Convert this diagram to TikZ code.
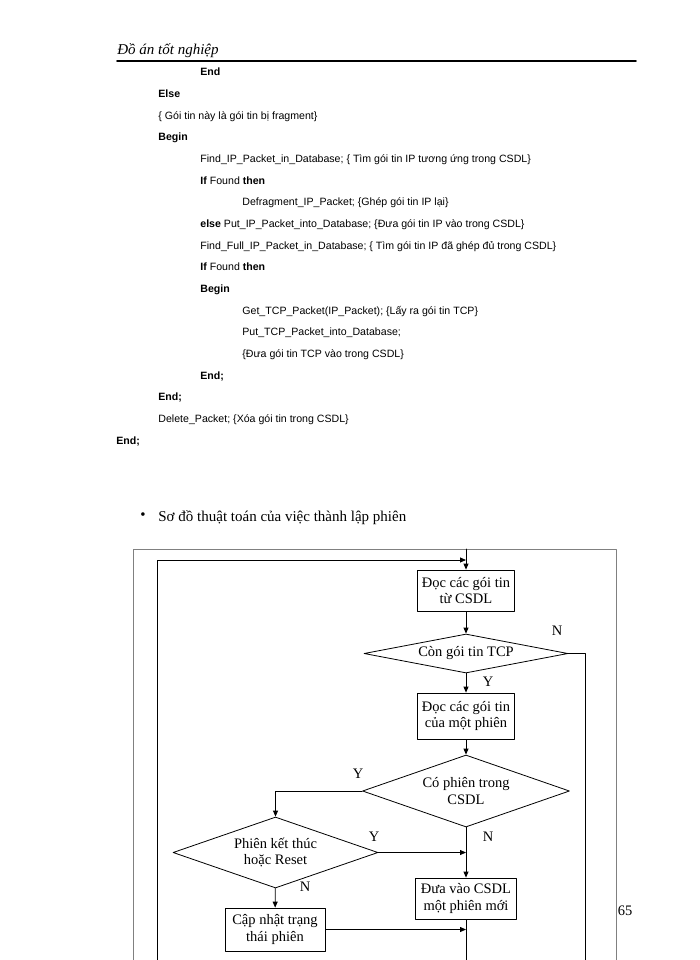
\documentclass[tikz,border=0pt]{standalone}
\usepackage{fontspec}
\setmainfont{Liberation Serif}
\newfontfamily\codefont{Liberation Sans}
\usetikzlibrary{shapes.geometric,arrows.meta}

\tikzset{
  codeline/.style={anchor=base west,inner sep=0pt,font=\codefont\fontsize{10.6}{12}\selectfont},
  chart/.style={font=\fontsize{14.5}{16.5}\selectfont},
  box/.style={chart,draw,rectangle,align=center,inner sep=1pt,minimum width=97pt,minimum height=41pt},
  dec/.style={chart,draw,diamond,align=center,inner sep=0pt,aspect=3,minimum width=205pt,minimum height=71pt},
  lbl/.style={chart,inner sep=0pt},
  arr/.style={-{Triangle[length=6pt,width=5pt]}},
}

\begin{document}
\begin{tikzpicture}[x=1pt,y=-1pt,line cap=round,line join=round,line width=0.8pt]
  \useasboundingbox (0,0) rectangle (700,960);
  % page header
  \node[anchor=base west,inner sep=0pt,font=\itshape\fontsize{15}{17}\selectfont] (hdr) at (117,55) {Đồ án tốt nghiệp};
  \coordinate (hl) at (117,61);
  \coordinate (hr) at (636,61);
  \draw[line width=1.6pt] (hl) -- (hr);
  % pseudocode
  \foreach \i/\x/\t in {
    1/200/{\textbf{End}},
    2/158/{\textbf{Else}},
    3/158/{\{ Gói tin này là gói tin bị fragment\}},
    4/158/{\textbf{Begin}},
    5/200/{Find\_IP\_Packet\_in\_Database; \{ Tìm gói tin IP tương ứng trong CSDL\}},
    6/200/{\textbf{If} Found \textbf{then}},
    7/242/{Defragment\_IP\_Packet; \{Ghép gói tin IP lại\}},
    8/200/{\textbf{else} Put\_IP\_Packet\_into\_Database; \{Đưa gói tin IP vào trong CSDL\}},
    9/200/{Find\_Full\_IP\_Packet\_in\_Database; \{ Tìm gói tin IP đã ghép đủ trong CSDL\}},
    10/200/{\textbf{If} Found \textbf{then}},
    11/200/{\textbf{Begin}},
    12/242/{Get\_TCP\_Packet(IP\_Packet); \{Lấy ra gói tin TCP\}},
    13/242/{Put\_TCP\_Packet\_into\_Database;},
    14/242/{\{Đưa gói tin TCP vào trong CSDL\}},
    15/200/{\textbf{End;}},
    16/158/{\textbf{End;}},
    17/158/{Delete\_Packet; \{Xóa gói tin trong CSDL\}},
    18/116/{\textbf{End;}}} {
    \node[codeline] (c\i) at (\x,{76+(\i-1)*21.65}) {\t};
  }
  % caption
  \node[inner sep=0pt,font=\fontsize{15}{17}\selectfont] (bul) at (143,516) {•};
  \node[anchor=base west,inner sep=0pt,font=\fontsize{15}{17}\selectfont] (cap) at (158,521) {Sơ đồ thuật toán của việc thành lập phiên};
  % frame
  \coordinate (fbl) at (133,960);
  \coordinate (ftl) at (133,549);
  \coordinate (ftr) at (616,549);
  \coordinate (fbr) at (616,960);
  \draw[gray] (fbl) -- (ftl) -- (ftr) -- (fbr);
  % flowchart
  \node[box] (rd) at (466,590.5) {Đọc các gói tin\\từ CSDL};
  \node[dec,aspect=5.2,minimum width=204pt,minimum height=39pt] (tcp) at (466,653.5) {Còn gói tin TCP};
  \node[box,minimum height=46pt] (rs) at (466,716) {Đọc các gói tin\\của một phiên};
  \node[dec,minimum width=207pt,minimum height=72pt] (has) at (466,791) {Có phiên trong\\CSDL};
  \node[dec] (fin) at (275.5,852.5) {Phiên kết thúc\\hoặc Reset};
  \node[box,minimum width=101pt] (new) at (466,898.5) {Đưa vào CSDL\\một phiên mới};
  \node[box,minimum width=100pt,minimum height=43pt] (upd) at (275,929.5) {Cập nhật trạng\\thái phiên};
  \coordinate (mt) at (466,549);
  \coordinate (mb) at (466,960);
  \coordinate (lt) at (157,560);
  \coordinate (lb) at (157,960);
  \coordinate (rb) at (585,960);
  \draw[arr] (mt) -- (rd);
  \draw[arr] (lb) -- (lt) -- (lt -| rd.north);
  \draw[arr] (rd) -- (tcp);
  \draw (tcp.east) -| (rb);
  \draw[arr] (tcp) -- (rs);
  \draw[arr] (rs) -- (has);
  \draw[arr] (has.west) -| (fin.north);
  \draw[arr] (fin.east) -- (fin.east -| new.north);
  \draw[arr] (has) -- (new);
  \draw[arr] (fin) -- (upd);
  \draw[arr] (upd.east) -- (upd.east -| new.south);
  \draw (new) -- (mb);
  \node[lbl] (n1) at (557,631) {N};
  \node[lbl] (y1) at (488,682) {Y};
  \node[lbl] (y2) at (358,774) {Y};
  \node[lbl] (y3) at (374,837) {Y};
  \node[lbl] (n2) at (488,837) {N};
  \node[lbl] (n3) at (305,887) {N};
  \node[lbl] (pg) at (625,911) {65};
\end{tikzpicture}
\end{document}
